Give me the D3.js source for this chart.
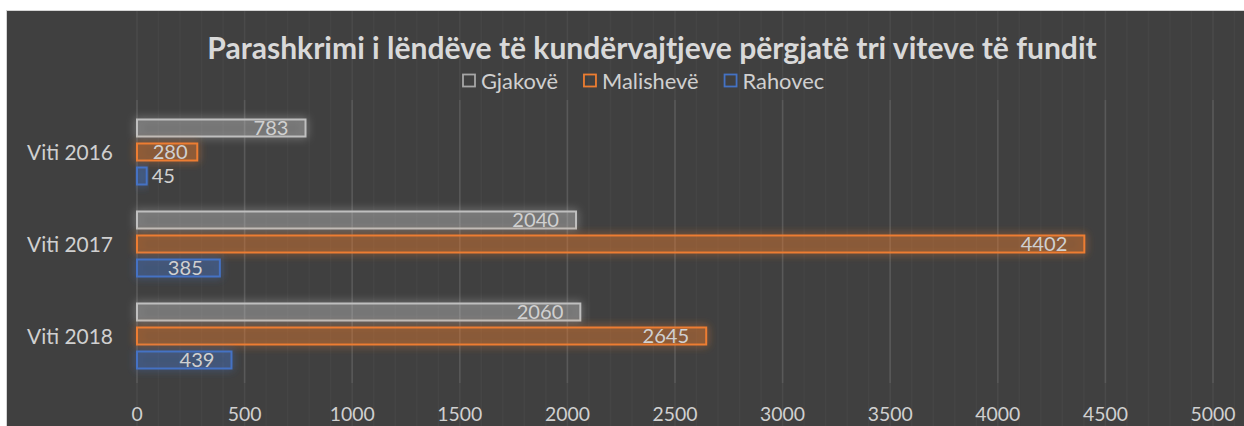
<!DOCTYPE html>
<html>
<head>
<meta charset="utf-8">
<script src="https://cdn.jsdelivr.net/npm/d3@7"></script>
<style>
  html, body { margin: 0; padding: 0; background: #ffffff; }
  text { font-family: Lato, "Open Sans", sans-serif; }
</style>
</head>
<body>
<div id="chart"></div>
<script>
// chart data
const title = "Parashkrimi i lëndëve të kundërvajtjeve përgjatë tri viteve të fundit";
const categories = ["Viti 2016", "Viti 2017", "Viti 2018"];
const seriesNames = ["Gjakovë", "Malishevë", "Rahovec"];
const gjakove = [783, 2040, 2060];
const malisheve = [280, 4402, 2645];
const rahovec = [45, 385, 439];
const xTicks = [0, 500, 1000, 1500, 2000, 2500, 3000, 3500, 4000, 4500, 5000];

const seriesValues = [gjakove, malisheve, rahovec];
const strokeColors = ["#bfbfbf", "#ed7d31", "#4472c4"];

const W = 1244, H = 426;
const svg = d3.select("#chart").append("svg")
  .attr("width", W).attr("height", H);

// helper: find a font size so that sample text has a given width
function fitSize(sample, weight, target) {
  const t = svg.append("text").attr("font-size", 100).attr("font-weight", weight).text(sample);
  const w = t.node().getComputedTextLength();
  t.remove();
  return 100 * target / w;
}
const titleSize = fitSize(title, "bold", 890);
const catSize = fitSize("Viti 2016", "normal", 86);
const tickSize = fitSize("5000", "normal", 45);
const valSize = fitSize("783", "normal", 35);
const legSize = fitSize("Gjakovë", "normal", 77);

// background
svg.append("rect")
  .attr("x", 6.5).attr("y", 10.5)
  .attr("width", W).attr("height", H)
  .attr("fill", "#404040").attr("stroke", "#d4d4d4").attr("stroke-width", 1);

const x = d3.scaleLinear().domain([0, 5000]).range([137, 1213]);

// faint stripe pattern
const stripes = d3.range(0, 5200, 100);
svg.append("g").selectAll("line").data(stripes).enter().append("line")
  .attr("x1", d => x(d)).attr("x2", d => x(d))
  .attr("y1", 11).attr("y2", H)
  .attr("stroke", d => d % 500 === 0 ? "#4a4a4a" : "#454545")
  .attr("stroke-width", 1.5);

const y0 = d3.scaleBand().domain(categories).range([106, 382])
  .paddingInner(27 / 92).paddingOuter(13.5 / 92);
const y1 = d3.scaleBand().domain(seriesNames).range([0, y0.bandwidth()])
  .paddingInner(7 / 24).paddingOuter(0);

// major gridlines
svg.append("g").selectAll("line").data(xTicks).enter().append("line")
  .attr("x1", d => x(d)).attr("x2", d => x(d))
  .attr("y1", 100).attr("y2", 383)
  .attr("stroke", "#595959").attr("stroke-width", 1.5);

// glow filters
const defs = svg.append("defs");
strokeColors.forEach((c, i) => {
  const f = defs.append("filter").attr("id", "glow" + i)
    .attr("x", "-20%").attr("y", "-100%").attr("width", "140%").attr("height", "300%");
  f.append("feFlood").attr("flood-color", c).attr("flood-opacity", 0.8).attr("result", "col");
  f.append("feComposite").attr("in", "col").attr("in2", "SourceAlpha").attr("operator", "in").attr("result", "shape");
  f.append("feGaussianBlur").attr("in", "shape").attr("stdDeviation", 4).attr("result", "blur");
  const m = f.append("feMerge");
  m.append("feMergeNode").attr("in", "blur");
  m.append("feMergeNode").attr("in", "SourceGraphic");
});

// bars
const rows = [];
categories.forEach((cat, ci) => {
  seriesNames.forEach((s, si) => {
    rows.push({ cat: cat, series: s, si: si, value: seriesValues[si][ci] });
  });
});

svg.append("g").selectAll("rect").data(rows).enter().append("rect")
  .attr("x", x(0))
  .attr("y", d => y0(d.cat) + y1(d.series))
  .attr("width", d => x(d.value) - x(0))
  .attr("height", y1.bandwidth())
  .attr("fill", d => strokeColors[d.si])
  .attr("fill-opacity", 0.25)
  .attr("stroke", d => strokeColors[d.si])
  .attr("stroke-width", 2)
  .attr("filter", d => "url(#glow" + d.si + ")");

// value labels
const labels = svg.append("g").selectAll("text").data(rows).enter().append("text")
  .attr("y", d => y0(d.cat) + y1(d.series) + y1.bandwidth() / 2)
  .attr("dy", "0.36em")
  .attr("font-size", valSize)
  .attr("fill", "#d0d0d0")
  .text(d => d.value);
labels.each(function(d) {
  const tw = this.getComputedTextLength();
  const bw = x(d.value) - x(0);
  const el = d3.select(this);
  if (bw >= tw + 34) {
    el.attr("x", x(d.value) - 17).attr("text-anchor", "end");
  } else if (bw >= tw + 10) {
    el.attr("x", x(0) + bw / 2 + 3).attr("text-anchor", "middle");
  } else {
    el.attr("x", x(d.value) + 5).attr("text-anchor", "start");
  }
});

// category labels
svg.append("g").selectAll("text").data(categories).enter().append("text")
  .attr("x", 113)
  .attr("y", d => y0(d) + y0.bandwidth() / 2)
  .attr("dy", "0.36em")
  .attr("text-anchor", "end")
  .attr("font-size", catSize)
  .attr("fill", "#d0d0d0")
  .text(d => d);

// x tick labels
svg.append("g").selectAll("text").data(xTicks).enter().append("text")
  .attr("x", d => x(d))
  .attr("y", 421)
  .attr("text-anchor", "middle")
  .attr("font-size", tickSize)
  .attr("fill", "#d0d0d0")
  .text(d => d);

// title
svg.append("text")
  .attr("x", 652).attr("y", 59)
  .attr("text-anchor", "middle")
  .attr("font-size", titleSize)
  .attr("font-weight", "bold")
  .attr("fill", "#d9d9d9")
  .text(title);

// legend
const legend = svg.append("g");
let lx = 0;
seriesNames.forEach((s, i) => {
  const g = legend.append("g").attr("transform", "translate(" + lx + ",0)");
  g.append("rect").attr("x", 1).attr("y", -6.5).attr("width", 12).attr("height", 12)
    .attr("fill", "none").attr("stroke", strokeColors[i] === "#bfbfbf" ? "#a6a6a6" : strokeColors[i])
    .attr("stroke-width", 1.8);
  const t = g.append("text").attr("x", 19).attr("dy", "0.36em")
    .attr("font-size", legSize).attr("fill", "#d0d0d0").text(s);
  lx += 19 + t.node().getComputedTextLength() + 25;
});
legend.attr("transform", "translate(462,81)");
</script>
</body>
</html>
